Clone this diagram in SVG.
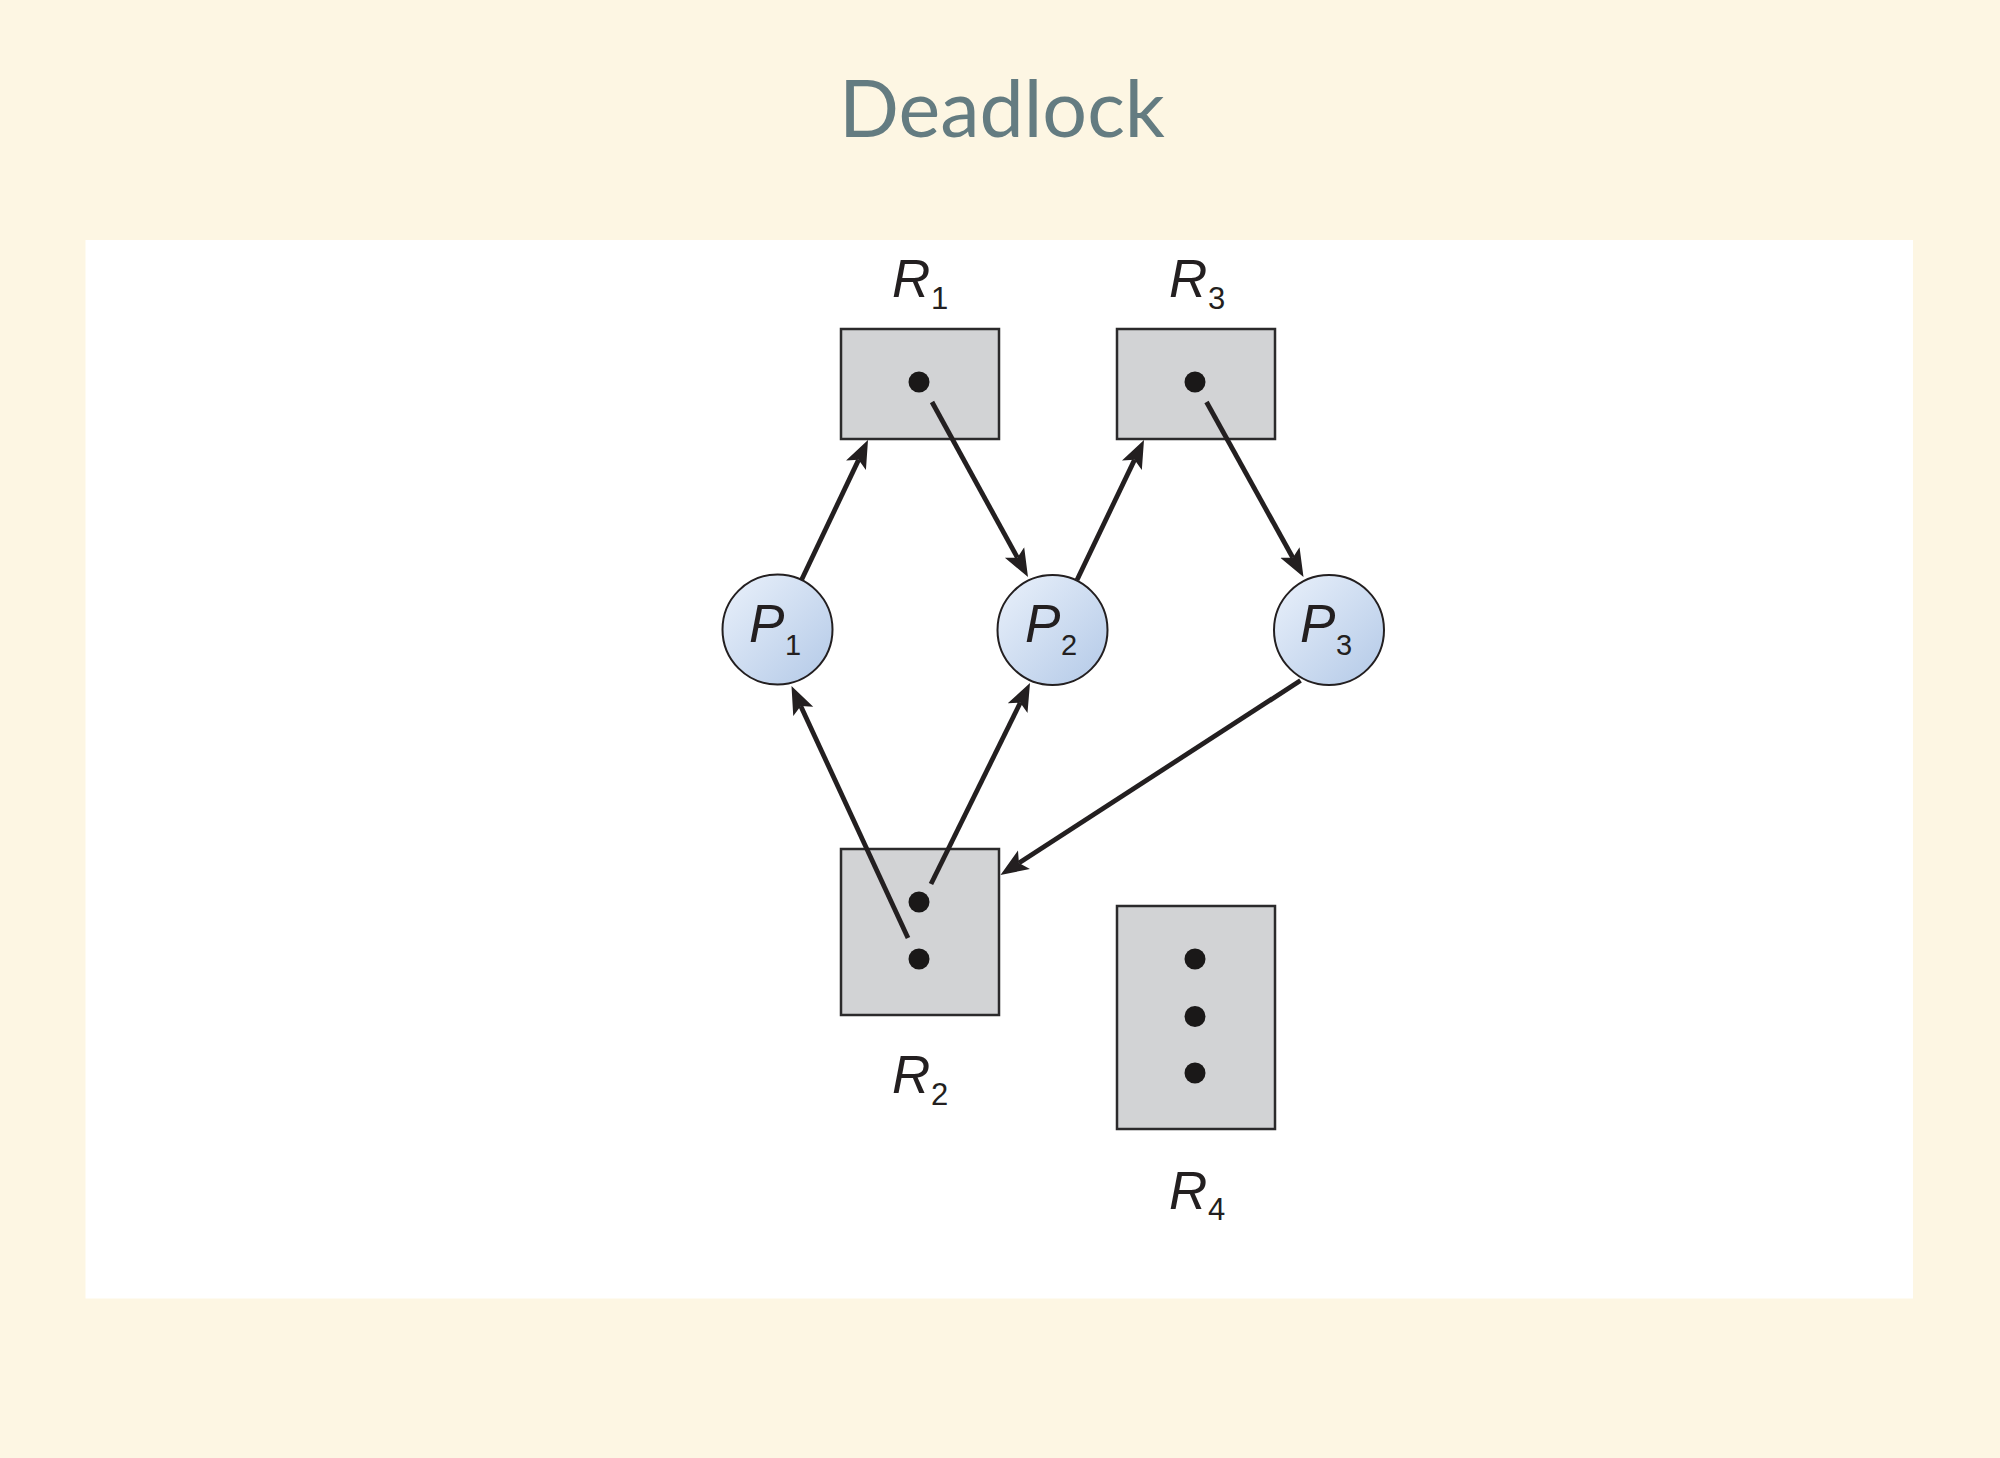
<svg xmlns="http://www.w3.org/2000/svg" width="2000" height="1458" viewBox="0 0 2000 1458">
  <style>
    .title { font-family: Lato, "Liberation Sans", sans-serif; font-size: 79px; fill: #647c81; }
    .lbl { font-family: "Liberation Sans", Arial, sans-serif; font-style: italic; font-size: 53px; fill: #231f20; }
    .subR { font-style: normal; font-size: 31px; }
    .subP { font-style: normal; font-size: 29px; }
    .res { fill: #d2d3d5; stroke: #2b2a2b; stroke-width: 2.5; }
    .dot { fill: #1a1818; }
    .proc { fill: url(#pgrad); stroke: #231f20; stroke-width: 2; }
    .edge { stroke: #231f20; stroke-width: 4.8; fill: none; marker-end: url(#arrow); }
  </style>
  <defs>
    <linearGradient id="pgrad" x1="0" y1="0" x2="1" y2="1">
      <stop offset="0" stop-color="#eaf1fb"/>
      <stop offset="1" stop-color="#b3c9e7"/>
    </linearGradient>
    <marker id="arrow" markerUnits="userSpaceOnUse" markerWidth="30" markerHeight="24" viewBox="0 -12 30 24" refX="6" refY="0" orient="auto">
      <path d="M0,-11 L28,0 L0,11 L6,0 Z" fill="#231f20"/>
    </marker>
  </defs>

  <rect x="0" y="0" width="2000" height="1458" fill="#fdf6e3"/>
  <rect x="85.5" y="240" width="1827.5" height="1058.5" fill="#ffffff"/>

  <text class="title" x="1002" y="137" text-anchor="middle">Deadlock</text>

  <g id="R1">
    <rect class="res" x="841" y="329" width="158" height="110"/>
    <circle class="dot" cx="919" cy="382" r="10.5"/>
    <text class="lbl" x="892" y="297">R<tspan class="subR" x="931" y="309">1</tspan></text>
  </g>
  <g id="R3">
    <rect class="res" x="1117" y="329" width="158" height="110"/>
    <circle class="dot" cx="1195" cy="382" r="10.5"/>
    <text class="lbl" x="1169" y="297">R<tspan class="subR" x="1208" y="309">3</tspan></text>
  </g>
  <g id="R2">
    <rect class="res" x="841" y="849" width="158" height="166"/>
    <circle class="dot" cx="919" cy="902" r="10.5"/>
    <circle class="dot" cx="919" cy="959" r="10.5"/>
    <text class="lbl" x="892" y="1093">R<tspan class="subR" x="931" y="1105">2</tspan></text>
  </g>
  <g id="R4">
    <rect class="res" x="1117" y="906" width="158" height="223"/>
    <circle class="dot" cx="1195" cy="959" r="10.5"/>
    <circle class="dot" cx="1195" cy="1016.5" r="10.5"/>
    <circle class="dot" cx="1195" cy="1073" r="10.5"/>
    <text class="lbl" x="1169" y="1209">R<tspan class="subR" x="1208" y="1220">4</tspan></text>
  </g>

  <g id="P1">
    <circle class="proc" cx="777.5" cy="629.5" r="55"/>
    <text class="lbl" x="749" y="642">P<tspan class="subP" x="785" y="655">1</tspan></text>
  </g>
  <g id="P2">
    <circle class="proc" cx="1052.5" cy="630" r="55"/>
    <text class="lbl" x="1025" y="642">P<tspan class="subP" x="1061" y="655">2</tspan></text>
  </g>
  <g id="P3">
    <circle class="proc" cx="1329" cy="630" r="55"/>
    <text class="lbl" x="1300" y="642">P<tspan class="subP" x="1336" y="655">3</tspan></text>
  </g>

  <g id="connectors">
    <line class="edge" x1="801.5" y1="580" x2="858.56" y2="459.87"/>
    <line class="edge" x1="932" y1="402" x2="1017.42" y2="557.71"/>
    <line class="edge" x1="1077" y1="580" x2="1134.5" y2="459.84"/>
    <line class="edge" x1="1206.5" y1="402" x2="1292.83" y2="557.76"/>
    <line class="edge" x1="908" y1="938" x2="800.73" y2="705.97"/>
    <line class="edge" x1="931" y1="884" x2="1020.28" y2="702.73"/>
    <line class="edge" x1="1300.5" y1="680.5" x2="1018.93" y2="862.99"/>
  </g>
</svg>
